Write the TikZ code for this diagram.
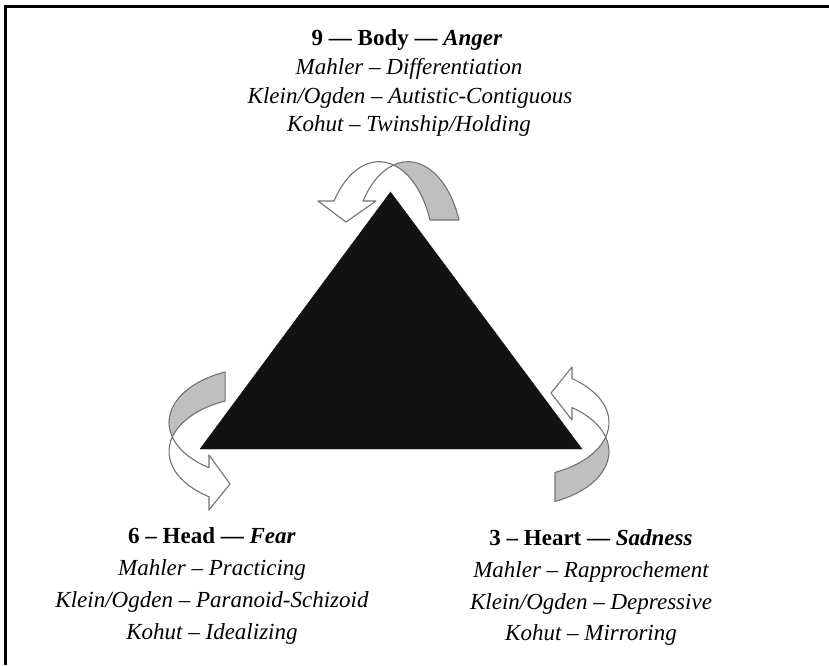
\documentclass[tikz,border=0pt]{standalone}
\usepackage{fontspec}
\setmainfont{Liberation Serif}
\begin{document}
\begin{tikzpicture}[x=1pt,y=-1pt,
  arrowline/.style={draw=black!55, line width=1.1pt, line join=round},
  backband/.style={arrowline, fill=black!25},
  frontband/.style={arrowline, fill=white},
  lbl/.style={anchor=base, inner sep=0pt, font=\fontsize{23}{27}\selectfont\itshape},
  hdr/.style={anchor=base, inner sep=0pt, font=\fontsize{23}{27}\selectfont\bfseries}]
\useasboundingbox (0,0) rectangle (829,665);
% frame (top and left edges)
\draw[line width=3pt] (5.5,665) -- (5.5,6.5) -- (829,6.5);
% triangle
\coordinate (apex) at (390.5,192);
\coordinate (bl) at (200,449);
\coordinate (br) at (582,449);
\filldraw[fill=black!93, draw=black!93] (apex) -- (bl) -- (br) -- cycle;
% top curved arrow
\filldraw[backband] (459.0,220) arc[start angle=-21.9, end angle=-105.29, x radius=55, y radius=93]
  arc[start angle=-74.71, end angle=-21.9, x radius=55, y radius=93] -- cycle;
\filldraw[frontband] (393.5,165) arc[start angle=-74.71, end angle=-144.73, x radius=55, y radius=93]
  -- (318,201) -- (346,222) -- (376,201) -- (363.1,201)
  arc[start angle=-144.73, end angle=-105.29, x radius=55, y radius=93] -- cycle;
% left curved arrow
\filldraw[backband] (225.07,372.0) arc[start angle=-113.4, end angle=-195.29, x radius=93, y radius=55]
  arc[start angle=-164.71, end angle=-113.4, x radius=93, y radius=55] -- cycle;
\filldraw[frontband] (172.3,437) arc[start angle=195.29, end angle=124.74, x radius=93, y radius=55]
  -- (209,510) -- (230,484) -- (209,455) -- (209,467.7)
  arc[start angle=124.74, end angle=164.71, x radius=93, y radius=55] -- cycle;
% right curved arrow
\filldraw[frontband] (605.7,437) arc[start angle=15.29, end angle=-52.98, x radius=93, y radius=55]
  -- (572,367) -- (551,393) -- (572,420) -- (572,407.6)
  arc[start angle=-52.98, end angle=-15.29, x radius=93, y radius=55] -- cycle;
\filldraw[backband] (605.7,437) arc[start angle=-15.29, end angle=65.2, x radius=93, y radius=55]
  -- (555,472.4) arc[start angle=65.2, end angle=15.29, x radius=93, y radius=55] -- cycle;
% texts: top
\node[hdr] (t1) at (407,45) {9 — Body — \textit{Anger}};
\node[lbl] (t2) at (409,74.5) {Mahler – Differentiation};
\node[lbl] (t3) at (410,103) {Klein/Ogden – Autistic-Contiguous};
\node[lbl] (t4) at (409,131) {Kohut – Twinship/Holding};
% bottom left
\node[hdr] (l1) at (212,543) {6 – Head — \textit{Fear}};
\node[lbl] (l2) at (212,575) {Mahler – Practicing};
\node[lbl] (l3) at (212,607) {Klein/Ogden – Paranoid-Schizoid};
\node[lbl] (l4) at (212,639) {Kohut – Idealizing};
% bottom right
\node[hdr] (r1) at (591,545) {3 – Heart — \textit{Sadness}};
\node[lbl] (r2) at (591,577) {Mahler – Rapprochement};
\node[lbl] (r3) at (591,609) {Klein/Ogden – Depressive};
\node[lbl] (r4) at (591,640) {Kohut – Mirroring};
\end{tikzpicture}
\end{document}
